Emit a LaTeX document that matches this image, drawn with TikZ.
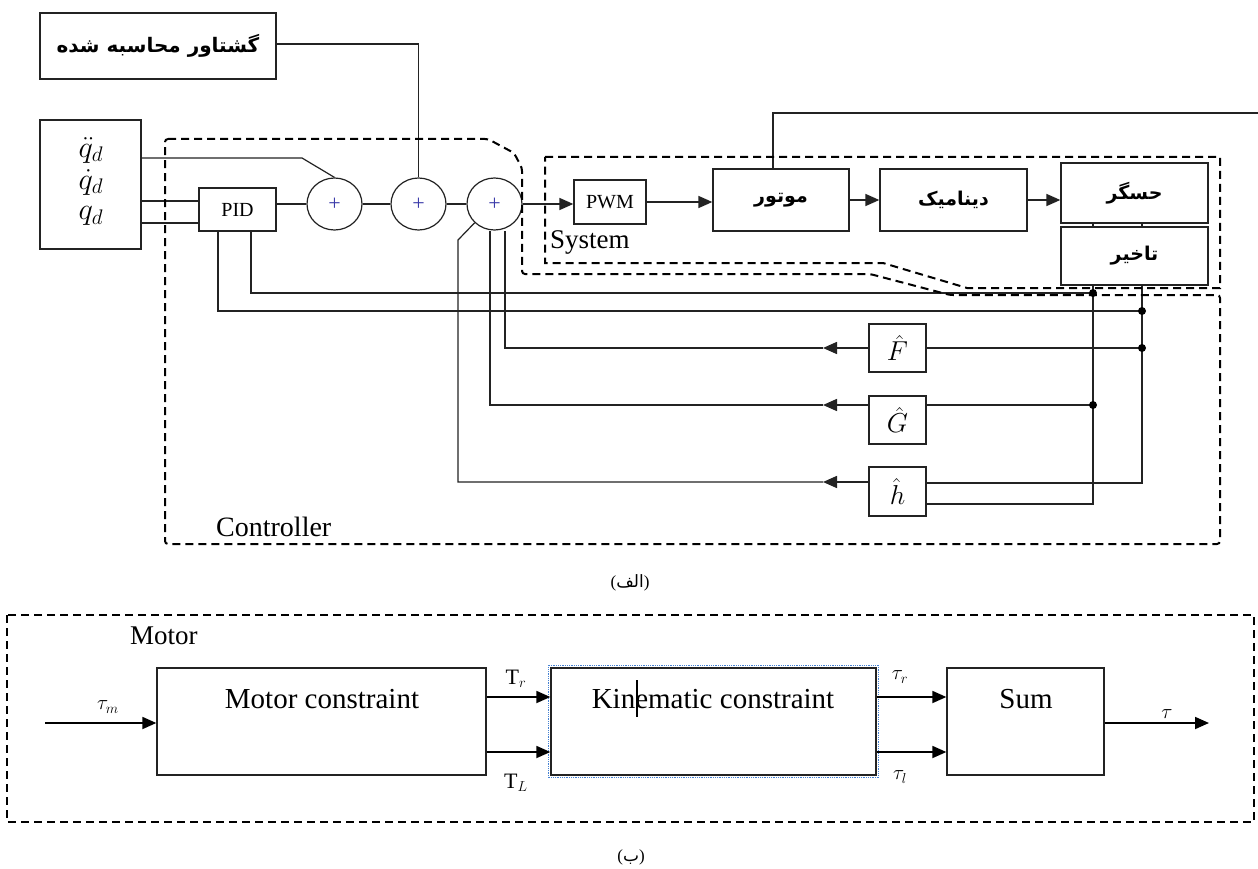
\documentclass[tikz,border=0pt]{standalone}
\usepackage{graphicx}
\usepackage{fontspec}
\setmainfont{Liberation Serif}
\newfontfamily\fa[Script=Arabic]{DejaVu Sans}
\TeXXeTstate=1
\usetikzlibrary{shapes.geometric,arrows.meta,backgrounds}
\definecolor{ln}{RGB}{35,35,35}
\definecolor{plusc}{RGB}{60,60,170}
\definecolor{selc}{RGB}{70,130,210}
\begin{document}
\begin{tikzpicture}[x=1pt,y=-1pt,
  box/.style={draw=ln,line width=1.3pt,fill=white,inner sep=0pt,font=\fontsize{20}{22}\selectfont},
  fbox/.style={box,font=\fontsize{19}{22}\selectfont\fa\bfseries},
  sumc/.style={ellipse,draw=ln,line width=1.2pt,fill=white,minimum width=55pt,minimum height=52pt,inner sep=0pt,text=plusc,font=\fontsize{22}{24}\selectfont},
  wire/.style={draw=ln,line width=1.2pt},
  arr/.style={draw=ln,line width=1.6pt,-{Triangle[length=14pt,width=12pt]}},
  barr/.style={draw=black,line width=1.8pt,-{Triangle[length=14pt,width=12pt]}},
  bdr/.style={draw=black,line width=2pt,dash pattern=on 8pt off 5pt},
  dot/.style={circle,fill=black,inner sep=0pt,minimum size=8pt},
  lbl/.style={inner sep=0pt,font=\fontsize{27}{29}\selectfont},
  big/.style={inner sep=0pt,font=\fontsize{29}{31}\selectfont},
  mth/.style={inner sep=0pt,font=\fontsize{24}{26}\selectfont},
  sml/.style={inner sep=0pt,font=\fontsize{22}{24}\selectfont},
]
\useasboundingbox (0,0) rectangle (1258,869);

% ---------- panel (a) ----------
\node[fbox,minimum width=236pt,minimum height=66pt,font=\fontsize{20}{24}\selectfont\fa\bfseries] (torque) at (158,46) {\beginR گشتاور محاسبه شده\endR};

\node[box,minimum width=101pt,minimum height=129pt] (inp) at (90.5,184.5) {};
\node[mth] (qdd) at (91,150) {\scalebox{1.22}{$\ddot{q}_d$}};
\node[mth] (qd1) at (91,182) {\scalebox{1.22}{$\dot{q}_d$}};
\node[mth] (q0) at (91,216) {\scalebox{1.22}{$q_d$}};

\node[box,minimum width=77pt,minimum height=43pt] (pid) at (237.5,209.5) {PID};
\node[sumc] (c1) at (334.5,204) {+};
\node[sumc] (c2) at (418.5,204) {+};
\node[sumc] (c3) at (494.5,204) {+};

\node[box,minimum width=72pt,minimum height=44pt] (pwm) at (610,202) {PWM};
\node[fbox,minimum width=136pt,minimum height=62pt] (motor) at (781,200) {\beginR موتور\endR};
\node[fbox,minimum width=147pt,minimum height=62pt] (dyn) at (953.5,200) {\beginR دینامیک\endR};
\node[fbox,minimum width=147pt,minimum height=60pt] (sensor) at (1134.5,193) {\beginR حسگر\endR};
\node[fbox,minimum width=147pt,minimum height=58pt] (delay) at (1134.5,256) {\beginR تاخیر\endR};

\node[box,minimum width=57pt,minimum height=48pt,font=\fontsize{24}{26}\selectfont] (Fhat) at (897.5,348) {\scalebox{1.1}{$\hat{F}$}};
\node[box,minimum width=57pt,minimum height=48pt,font=\fontsize{24}{26}\selectfont] (Ghat) at (897.5,420) {\scalebox{1.1}{$\hat{G}$}};
\node[box,minimum width=57pt,minimum height=49pt,font=\fontsize{24}{26}\selectfont] (hhat) at (897.5,491.5) {\scalebox{1.1}{$\hat{h}$}};

\coordinate (j1) at (1093,293);
\coordinate (j2) at (1142,311);
\coordinate (j3) at (1142,348);
\coordinate (j4) at (1093,405);
\coordinate (b1) at (1093,504);
\coordinate (b2) at (1142,483);
\coordinate (fa) at (823,348);
\coordinate (ga) at (823,405);
\coordinate (ha) at (823,482);
\coordinate (hb) at (458,240);
\coordinate (mout) at (1258,113);

\begin{scope}[on background layer]
\fill[white] (0,0) rectangle (1258,869);
\draw[wire] (torque.east |- 0,44) -| (c2.north);
\draw[wire] (inp.east |- 0,158) -- (302,158) -- (c1.north);
\draw[wire] (inp.east |- 0,201) -- (pid.west |- 0,201);
\draw[wire] (inp.east |- 0,223) -- (pid.west |- 0,223);
\draw[wire] (pid.east |- c1.west) -- (c1.west);
\draw[wire] (c1) -- (c2) -- (c3);
\draw[wire] (pid.south -| 251,0) |- (j1);
\draw[wire] (pid.south -| 218,0) |- (j2);
\draw[wire] (delay.south -| j1) -- (b1) -- (hhat.east |- b1);
\draw[wire] (delay.south -| j2) -- (b2) -- (hhat.east |- b2);
\draw[wire] (sensor.south -| j1) -- (delay.north -| j1);
\draw[wire] (sensor.south -| j2) -- (delay.north -| j2);
\draw[wire] (j3) -- (Fhat.east |- j3);
\draw[wire] (j4) -- (Ghat.east |- j4);
\draw[wire] (fa) -| (c3.south -| 505,0);
\draw[wire] (ga) -| (c3.south -| 490,0);
\draw[wire] (ha) -| (hb) -- (c3.south west);
\draw[wire] (motor.north -| 773,0) |- (mout);
\end{scope}

\draw[arr] (c3.east) -- (pwm.west |- c3.east);
\draw[arr] (pwm.east) -- (motor.west |- pwm.east);
\draw[arr] (motor.east) -- (dyn.west);
\draw[arr] (dyn.east) -- (sensor.west |- dyn.east);
\draw[arr] (Fhat.west) -- (fa);
\draw[arr] (Ghat.west |- ga) -- (ga);
\draw[arr] (hhat.west |- ha) -- (ha);

\node[dot] (d1) at (j1) {};
\node[dot] (d2) at (j2) {};
\node[dot] (d3) at (j3) {};
\node[dot] (d4) at (j4) {};

\draw[bdr,rounded corners=3pt] (165,139) -- (488,139) -- (514,153) -- (522,168) -- (522,274) -- (870,274) -- (950,295) -- (1220,295) -- (1220,544) -- (165,544) -- cycle;
\draw[bdr] (545,157) -- (1220,157) -- (1220,288) -- (967,288) -- (883,263) -- (545,263) -- cycle;
\node[lbl,anchor=west] (syslbl) at (550,242) {System};
\node[lbl,font=\fontsize{28}{30}\selectfont,anchor=west] (ctllbl) at (216,527) {Controller};

\node[inner sep=0pt,font=\fontsize{17}{20}\selectfont] (capa) at (630,583) {({\fa\beginR الف\endR})};

% ---------- panel (b) ----------
\draw[bdr] (7,615) rectangle (1254,822);
\node[lbl,anchor=west] (motorlbl) at (130,636) {Motor};
\node[box,minimum width=329pt,minimum height=107pt] (mc) at (321.5,721.5) {};
\node[big] (mct) at (322,699) {Motor constraint};
\node[box,minimum width=325pt,minimum height=107pt] (kc) at (713.5,721.5) {};
\draw[selc,line width=0.8pt,densely dotted] ([xshift=-2pt,yshift=2pt]kc.north west) rectangle ([xshift=2pt,yshift=-2pt]kc.south east);
\node[big] (kct) at (713,699) {Kinematic constraint};
\draw[line width=2.6pt] (637,680) -- (637,717);
\node[box,minimum width=157pt,minimum height=107pt] (sum) at (1025.5,721.5) {};
\node[big] (sumt) at (1026,699) {Sum};

\coordinate (tin) at (45,723);
\coordinate (tout) at (1209,723);
\draw[barr] (tin) -- (mc.west |- tin);
\draw[barr] (mc.east |- 0,697) -- (kc.west |- 0,697);
\draw[barr] (mc.east |- 0,752) -- (kc.west |- 0,752);
\draw[barr] (kc.east |- 0,697) -- (sum.west |- 0,697);
\draw[barr] (kc.east |- 0,752) -- (sum.west |- 0,752);
\draw[barr] (sum.east |- tout) -- (tout);

\node[sml] (ltm) at (108,707) {$\tau_m$};
\node[sml] (ltr) at (516,679) {T$_r$};
\node[sml] (ltl) at (516,783) {T$_L$};
\node[sml] (lur) at (900,677) {$\tau_r$};
\node[sml] (lul) at (900,777) {$\tau_l$};
\node[sml] (lt) at (1167,714) {$\tau$};

\node[inner sep=0pt,font=\fontsize{17}{20}\selectfont] (capb) at (631,857) {({\fa\beginR ب\endR})};
\end{tikzpicture}
\end{document}
